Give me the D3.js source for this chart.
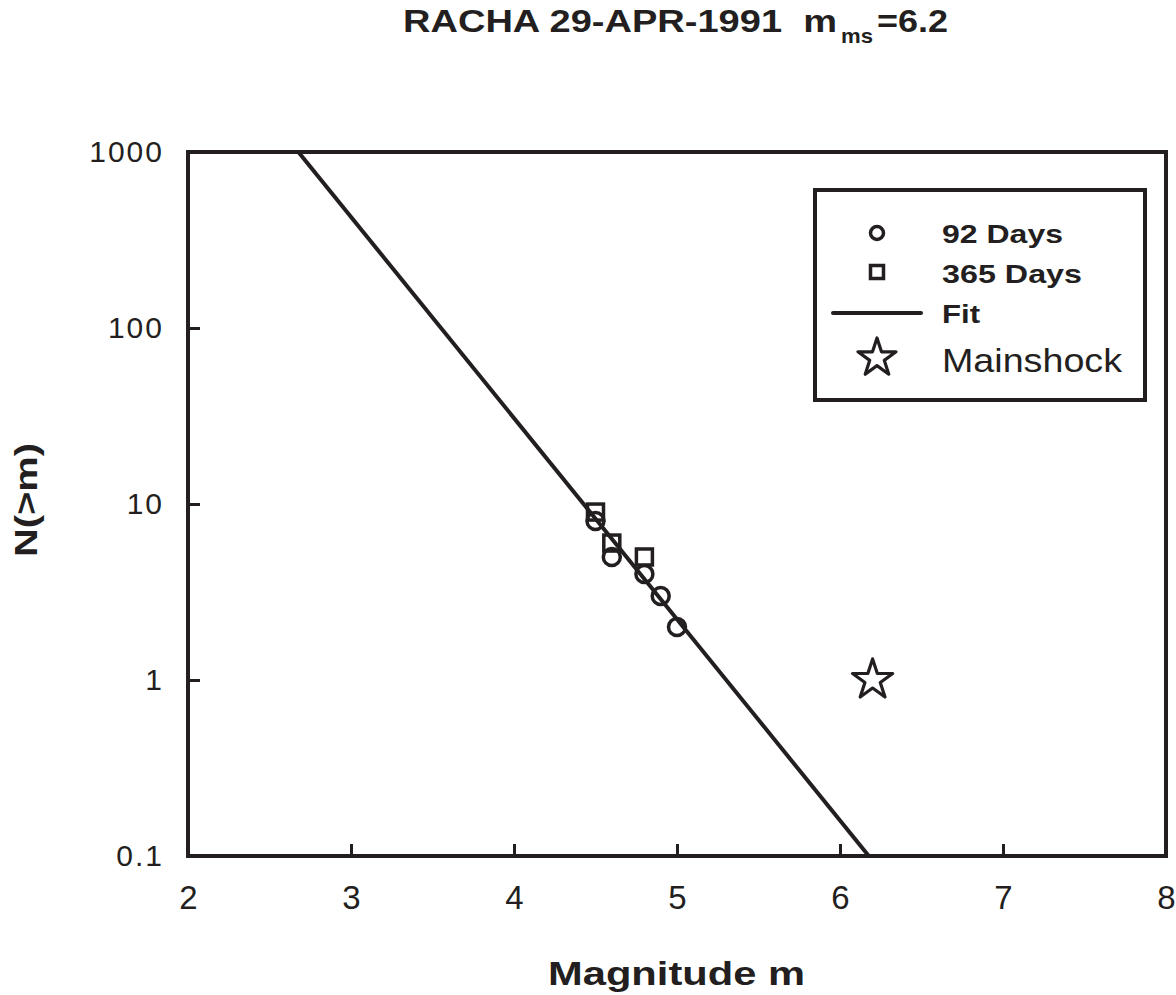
<!DOCTYPE html>
<html>
<head>
<meta charset="utf-8">
<script src="https://cdn.jsdelivr.net/npm/d3@7"></script>
<style>
  body { margin: 0; background: #fff; }
  text { font-family: "Liberation Sans", Arial, sans-serif; fill: #231f20; }
</style>
</head>
<body>
<svg id="chart" width="1176" height="995"></svg>
<script>
// data
const days92 = [
  { m: 4.5, n: 8 }, { m: 4.6, n: 5 }, { m: 4.8, n: 4 }, { m: 4.9, n: 3 }, { m: 5.0, n: 2 }
];
const days365 = [
  { m: 4.5, n: 9 }, { m: 4.6, n: 6 }, { m: 4.8, n: 5 }
];
const mainshock = [{ m: 6.2, n: 1 }];
// fit: log10 N = a - b m
const fitA = 6.06;
const fitB = 1.143;
const fitRange = [2.0, 8.0];
const xTicks = [2, 3, 4, 5, 6, 7, 8];
const yTicks = [0.1, 1, 10, 100, 1000];

const ink = '#231f20';
const svg = d3.select('#chart');
const margin = { top: 152, left: 188 };
const width = 978;
const height = 704;

const g = svg.append('g').attr('transform', `translate(${margin.left},${margin.top})`);

const x = d3.scaleLinear().domain([2, 8]).range([0, width]);
const y = d3.scaleLog().domain([0.1, 1000]).range([height, 0]);

svg.append('defs').append('clipPath').attr('id', 'plotClip')
  .append('rect').attr('width', width).attr('height', height);

// axes, ticks pointing inward
const xAxis = g.append('g').attr('transform', `translate(0,${height})`)
  .call(d3.axisBottom(x).tickValues(xTicks).tickSize(-12).tickPadding(30).tickFormat(d3.format('d')));
const yAxis = g.append('g')
  .call(d3.axisLeft(y).tickValues(yTicks).tickSize(-12).tickPadding(24).tickFormat(d => String(d)));
[xAxis, yAxis].forEach(a => {
  a.select('.domain').remove();
  a.selectAll('.tick line').attr('stroke', ink).attr('stroke-width', 3);
  a.selectAll('.tick text').attr('fill', ink)
    .style('font-family', '"Liberation Sans", Arial, sans-serif');
});
xAxis.selectAll('.tick text').attr('font-size', 33);
yAxis.selectAll('.tick text').attr('font-size', 30).attr('letter-spacing', 2);

// frame
g.append('rect').attr('width', width).attr('height', height)
  .attr('fill', 'none').attr('stroke', ink).attr('stroke-width', 4);

// fit line
const fitLine = d3.line().x(d => x(d)).y(d => y(Math.pow(10, fitA - fitB * d)));
g.append('path').datum(fitRange)
  .attr('clip-path', 'url(#plotClip)')
  .attr('d', fitLine).attr('fill', 'none').attr('stroke', ink).attr('stroke-width', 4);

// squares (365 days)
const sq = 16;
g.selectAll('.sq').data(days365).enter().append('rect')
  .attr('x', d => x(d.m) - sq / 2).attr('y', d => y(d.n) - sq / 2)
  .attr('width', sq).attr('height', sq)
  .attr('fill', 'none').attr('stroke', ink).attr('stroke-width', 3.5);

// circles (92 days)
g.selectAll('.ci').data(days92).enter().append('circle')
  .attr('cx', d => x(d.m)).attr('cy', d => y(d.n)).attr('r', 8.5)
  .attr('fill', 'none').attr('stroke', ink).attr('stroke-width', 3.5);

// mainshock star
g.selectAll('.star').data(mainshock).enter().append('path')
  .attr('d', d3.symbol().type(d3.symbolStar).size(500))
  .attr('transform', d => `translate(${x(d.m)},${y(d.n)})`)
  .attr('fill', 'none').attr('stroke', ink).attr('stroke-width', 3.2).attr('stroke-linejoin', 'round');

// legend
const lg = svg.append('g').attr('transform', 'translate(815,190)');
lg.append('rect').attr('width', 330).attr('height', 210)
  .attr('fill', '#fff').attr('stroke', ink).attr('stroke-width', 4);
lg.append('circle').attr('cx', 62).attr('cy', 43).attr('r', 6.5)
  .attr('fill', 'none').attr('stroke', ink).attr('stroke-width', 3.5);
lg.append('rect').attr('x', 55.5).attr('y', 75.5).attr('width', 13).attr('height', 13)
  .attr('fill', 'none').attr('stroke', ink).attr('stroke-width', 3.5);
lg.append('line').attr('x1', 18).attr('x2', 106).attr('y1', 123).attr('y2', 123)
  .attr('stroke', ink).attr('stroke-width', 4).attr('stroke-linecap', 'round');
lg.append('path').attr('d', d3.symbol().type(d3.symbolStar).size(450))
  .attr('transform', 'translate(62,168)')
  .attr('fill', 'none').attr('stroke', ink).attr('stroke-width', 3.2).attr('stroke-linejoin', 'round');
const legendLabels = [
  { t: '92 Days', y: 53, bold: true, size: 26, len: 121 },
  { t: '365 Days', y: 93, bold: true, size: 26, len: 140 },
  { t: 'Fit', y: 133, bold: true, size: 26, len: 38 },
  { t: 'Mainshock', y: 182, bold: false, size: 33, len: 180 }
];
lg.selectAll('.lt').data(legendLabels).enter().append('text')
  .attr('x', 127).attr('y', d => d.y)
  .attr('font-size', d => d.size)
  .attr('font-weight', d => d.bold ? 'bold' : 'normal')
  .attr('textLength', d => d.len)
  .attr('lengthAdjust', 'spacingAndGlyphs')
  .text(d => d.t);

// title
svg.append('text').attr('x', 403).attr('y', 32)
  .attr('font-size', 31).attr('font-weight', 'bold')
  .attr('textLength', 434).attr('lengthAdjust', 'spacingAndGlyphs')
  .text('RACHA 29-APR-1991\u00a0\u00a0m');
svg.append('text').attr('x', 841).attr('y', 43)
  .attr('font-size', 21).attr('font-weight', 'bold')
  .attr('textLength', 32).attr('lengthAdjust', 'spacingAndGlyphs')
  .text('ms');
svg.append('text').attr('x', 877).attr('y', 32)
  .attr('font-size', 31).attr('font-weight', 'bold')
  .attr('textLength', 71).attr('lengthAdjust', 'spacingAndGlyphs')
  .text('=6.2');

// axis titles
svg.append('text').attr('x', 548).attr('y', 985)
  .attr('font-size', 33).attr('font-weight', 'bold')
  .attr('textLength', 257).attr('lengthAdjust', 'spacingAndGlyphs')
  .text('Magnitude m');
svg.append('text').attr('transform', 'translate(37,557) rotate(-90)')
  .attr('font-size', 31).attr('font-weight', 'bold')
  .attr('textLength', 114).attr('lengthAdjust', 'spacingAndGlyphs')
  .text('N(>m)');
</script>
</body>
</html>
